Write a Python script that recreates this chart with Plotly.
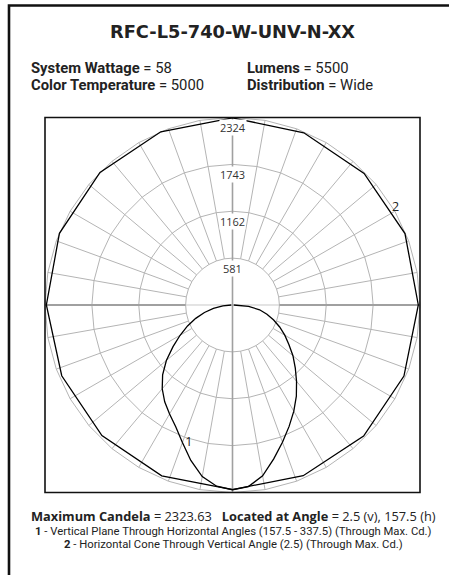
import plotly.graph_objects as go

# ---------------- data ----------------
title_text = "RFC-L5-740-W-UNV-N-XX"
system_wattage = "58"
lumens = "5500"
color_temperature = "5000"
distribution = "Wide"
max_candela = "2323.63"
max_angle = "2.5 (v), 157.5 (h)"

radial_ticks = [581, 1162, 1743, 2324]
r_max = 2324

# curve 1: vertical plane (vertical angle from nadir)
vert_angles = [0, 5, 10, 15, 20, 25, 30, 35, 40, 45, 50, 55, 60, 65, 70, 75, 80, 85, 90]
plane_157 = [2290, 2255, 2160, 1995, 1815, 1665, 1560, 1465, 1355, 1225, 1070, 900, 750, 615, 485, 360, 240, 120, 15]
plane_337 = [2290, 2260, 2150, 1975, 1810, 1660, 1520, 1380, 1235, 1100, 978, 853, 748, 645, 543, 442, 341, 200, 15]

# curve 2: horizontal cone at vertical angle 2.5
cone_angles = [0, 22.5, 45, 67.5, 90, 112.5, 135, 157.5, 180, 202.5, 225, 247.5, 270, 292.5, 315, 337.5]
cone_values = [2287, 2292, 2289, 2291, 2307, 2322, 2323, 2323.63, 2320, 2310, 2307, 2314, 2303, 2300, 2298, 2290]

grid_step = 10

# ---------------- layout constants ----------------
W, H = 449, 575
cx_px, cy_px, R_px = 232.5, 305.0, 187.5       # outer grid circle (r_max) in pixels
r_range = 2400                                  # axis range a bit beyond r_max so outside labels show
Rr_px = R_px * r_range / r_max
box_l, box_r, box_t, box_b = cx_px - R_px, cx_px + R_px, cy_px - R_px, cy_px + R_px
grid_col = "#b4b4b4"
axis_col = "#a0a0a0"

fig = go.Figure()

# grid circles
circ_theta = list(range(0, 361, grid_step))
for t in radial_ticks:
    fig.add_trace(go.Scatterpolar(r=[t] * len(circ_theta), theta=circ_theta, mode="lines",
                                  line=dict(color=grid_col, width=1), hoverinfo="skip", showlegend=False))

# spokes from first circle outward
sr, st = [], []
for a in range(0, 360, grid_step):
    if a % 90 == 0:
        continue
    sr += [radial_ticks[0], r_max, None]
    st += [a, a, None]
fig.add_trace(go.Scatterpolar(r=sr, theta=st, mode="lines", line=dict(color=grid_col, width=1),
                              hoverinfo="skip", showlegend=False))

# horizontal axis (thin inside, thick outside)
fig.add_trace(go.Scatterpolar(r=[radial_ticks[0], 0, radial_ticks[0]], theta=[90, 90, 270], mode="lines",
                              line=dict(color="#c8c8c8", width=1), hoverinfo="skip", showlegend=False))
fig.add_trace(go.Scatterpolar(r=[r_max, radial_ticks[0], None, radial_ticks[0], r_max],
                              theta=[90, 90, None, 270, 270], mode="lines",
                              line=dict(color=axis_col, width=2), hoverinfo="skip", showlegend=False))
# vertical axis
fig.add_trace(go.Scatterpolar(r=[r_max, 0, r_max], theta=[180, 180, 0], mode="lines",
                              line=dict(color=axis_col, width=1.6), hoverinfo="skip", showlegend=False))

# curve 2 (cone)
fig.add_trace(go.Scatterpolar(r=cone_values + cone_values[:1], theta=cone_angles + cone_angles[:1],
                              mode="lines", line=dict(color="black", width=1.3),
                              hoverinfo="skip", showlegend=False))

# curve 1 (vertical plane)
r1 = plane_157[::-1] + plane_337[1:]
t1 = vert_angles[::-1] + [360 - a for a in vert_angles[1:]]
fig.add_trace(go.Scatterpolar(r=r1, theta=t1, mode="lines", line=dict(color="black", width=1.3),
                              hoverinfo="skip", showlegend=False))

# curve labels
fig.add_trace(go.Scatterpolar(r=[1798, 2353], theta=[17.5, 239.2], text=["1", "2"], mode="text",
                              textfont=dict(family="Open Sans, sans-serif", size=12.5, color="#222"),
                              cliponaxis=False, hoverinfo="skip", showlegend=False))

dom_x = [(cx_px - Rr_px) / W, (cx_px + Rr_px) / W]
dom_y = [1 - (cy_px + Rr_px) / H, 1 - (cy_px - Rr_px) / H]

fig.update_layout(
    width=W, height=H,
    margin=dict(l=0, r=0, t=0, b=0),
    paper_bgcolor="white",
    polar=dict(
        domain=dict(x=dom_x, y=dom_y),
        bgcolor="rgba(0,0,0,0)",
        radialaxis=dict(range=[0, r_range], showgrid=False, showline=False, showticklabels=False, ticks=""),
        angularaxis=dict(rotation=270, direction="clockwise", showgrid=False, showline=False,
                         showticklabels=False, ticks=""),
    ),
)

# radial labels with white background
cy = 1 - cy_px / H
cx = cx_px / W
for t in radial_ticks:
    fig.add_annotation(x=cx, y=cy + (Rr_px / H) * t / r_range, xref="paper", yref="paper",
                       text=str(t), showarrow=False, xanchor="center", yanchor="middle", yshift=-10,
                       bgcolor="white", borderpad=0,
                       font=dict(family="Open Sans, sans-serif", size=11, color="#333"))

# frames
fig.add_shape(type="rect", xref="paper", yref="paper", x0=9 / W, x1=1.05, y0=-0.05, y1=1 - 5.5 / H,
              line=dict(color="#111", width=2.6))
fig.add_shape(type="rect", xref="paper", yref="paper", x0=box_l / W, x1=box_r / W,
              y0=1 - box_b / H, y1=1 - box_t / H, line=dict(color="#111", width=1.6))

# header texts
fig.add_annotation(x=232 / W, y=1 - 31 / H, xref="paper", yref="paper", showarrow=False,
                   text="<b>" + title_text + "</b>", xanchor="center", yanchor="middle",
                   font=dict(family="DejaVu Sans, sans-serif", size=17.8, color="#222"))

cond = "Roboto, sans-serif"
hdr = [
    (29, 67.5, "System Wattage", system_wattage),
    (29, 85, "Color Temperature", color_temperature),
    (245, 67.5, "Lumens", lumens),
    (245, 85, "Distribution", distribution),
]
for x, y, k, v in hdr:
    fig.add_annotation(x=x / W, y=1 - y / H, xref="paper", yref="paper", showarrow=False,
                       text="<b>" + k + "</b> = " + v, xanchor="left", yanchor="middle",
                       font=dict(family=cond, size=14.8, color="#222"))

foot = [
    (516, "<b>Maximum Candela</b> = " + max_candela + "&nbsp;&nbsp;&nbsp;<b>Located at Angle</b> = " + max_angle,
     12.8, "Open Sans, sans-serif"),
    (531, "<b>1</b> - Vertical Plane Through Horizontal Angles (157.5 - 337.5) (Through Max. Cd.)",
     11.3, "Roboto, sans-serif"),
    (544, "<b>2</b> - Horizontal Cone Through Vertical Angle (2.5) (Through Max. Cd.)",
     11.3, "Roboto, sans-serif"),
]
for y, txt, s, fam in foot:
    fig.add_annotation(x=233 / W, y=1 - y / H, xref="paper", yref="paper", showarrow=False,
                       text=txt, xanchor="center", yanchor="middle", borderpad=0,
                       font=dict(family=fam, size=s, color="#222"))

fig.write_html("out.html", config={"displayModeBar": False, "staticPlot": True},
               post_script="document.body.style.margin='0';document.body.style.overflow='hidden';")
